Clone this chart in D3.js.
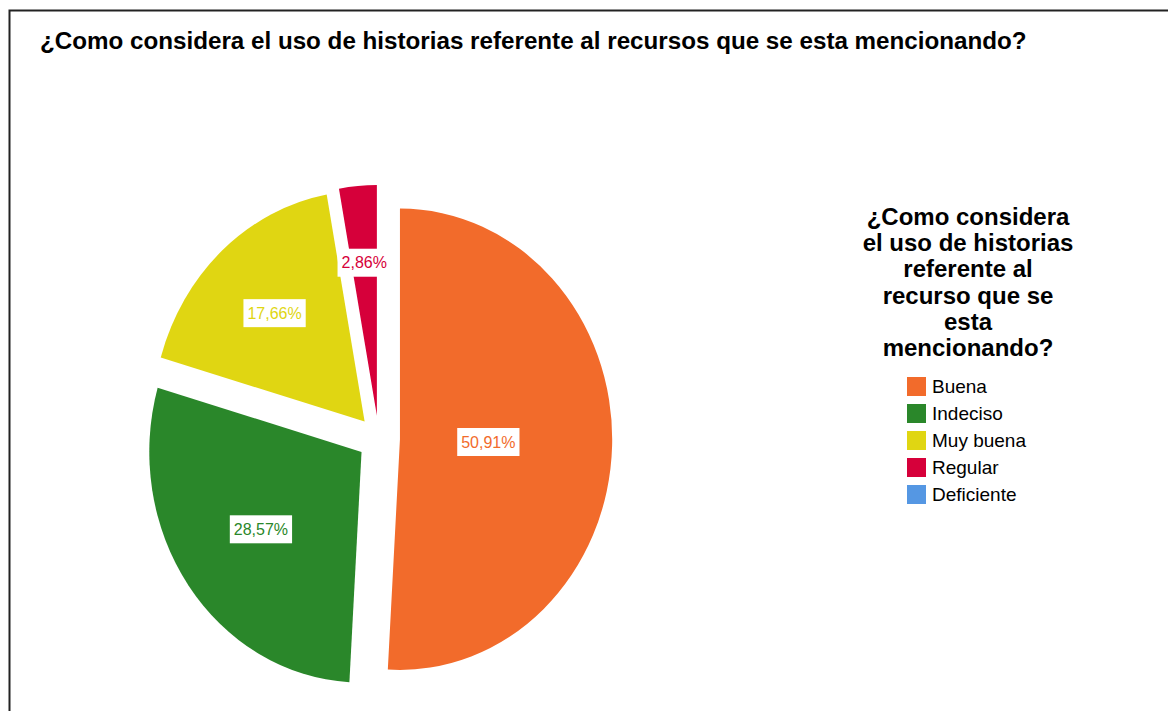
<!DOCTYPE html>
<html>
<head>
<meta charset="utf-8">
<script src="https://cdn.jsdelivr.net/npm/d3@7/dist/d3.min.js"></script>
<style>
  html, body { margin: 0; padding: 0; background: #ffffff; }
  svg { display: block; }
  text { font-family: "Liberation Sans", Arial, sans-serif; }
</style>
</head>
<body>
<svg id="chart" width="1168" height="711"></svg>
<script>
// Response categories and their shares (%)
const categories = ["Buena", "Indeciso", "Muy buena", "Regular", "Deficiente"];
const percentages = [50.91, 28.57, 17.66, 2.86, 0];
const sliceColors = ["#F26B2B", "#2A872A", "#E0D612", "#D6003A", "#5597E3"];
const chartTitle = "¿Como considera el uso de historias referente al recursos que se esta mencionando?";
const legendTitleLines = ["¿Como considera", "el uso de historias", "referente al", "recurso que se", "esta", "mencionando?"];

const svg = d3.select("#chart");

// outer frame (only top and left edges fall inside the view)
svg.append("rect")
  .attr("x", 9.5).attr("y", 10.5)
  .attr("width", 1400).attr("height", 1000)
  .attr("fill", "none").attr("stroke", "#222").attr("stroke-width", 2);

// main title
svg.append("text")
  .attr("x", 40).attr("y", 49)
  .attr("font-size", 24.2).attr("font-weight", "bold")
  .attr("fill", "#000")
  .text(chartTitle);

// pie geometry: slightly elliptical, every slice pulled out along its mid-angle
const cx = 378.8, cy = 438.6, radius = 230.7, squeeze = 0.92, explode = 23;

const data = categories.map((c, i) => ({ cat: c, value: percentages[i] }));
const color = d3.scaleOrdinal().domain(categories).range(sliceColors);

const pie = d3.pie().sort(null).value(d => d.value);
const arcs = pie(data);
const arc = d3.arc().innerRadius(0).outerRadius(radius);

const pieG = svg.append("g");

arcs.filter(a => a.data.value > 0).forEach(a => {
  const mid = (a.startAngle + a.endAngle) / 2;
  const dx = explode * Math.sin(mid), dy = -explode * Math.cos(mid);
  pieG.append("path")
    .attr("transform", `translate(${cx},${cy}) scale(${squeeze},1) translate(${dx},${dy})`)
    .attr("d", arc(a))
    .attr("fill", color(a.data.cat));
});

// percentage labels at each sector's centroid
const fmt = v => d3.format(".2f")(v).replace(".", ",") + "%";
arcs.filter(a => a.data.value > 0).forEach(a => {
  const mid = (a.startAngle + a.endAngle) / 2;
  const theta = a.endAngle - a.startAngle;
  const dist = explode + 4 * radius * Math.sin(theta / 2) / (3 * theta);
  const lx = cx + squeeze * dist * Math.sin(mid);
  const ly = cy - dist * Math.cos(mid);
  const g = svg.append("g").attr("transform", `translate(${lx},${ly})`);
  const t = g.append("text")
    .attr("text-anchor", "middle")
    .attr("dy", "0.35em")
    .attr("font-size", 16)
    .attr("fill", color(a.data.cat))
    .text(fmt(a.data.value));
  const bb = t.node().getBBox();
  g.insert("rect", "text")
    .attr("x", -bb.width / 2 - 4).attr("y", -14)
    .attr("width", bb.width + 8).attr("height", 28)
    .attr("fill", "#fff");
});

// legend
const legendX = 968;
const legG = svg.append("g");
legG.selectAll("text.lt")
  .data(legendTitleLines)
  .join("text")
  .attr("class", "lt")
  .attr("x", legendX)
  .attr("y", (d, i) => 225 + i * 26.2)
  .attr("text-anchor", "middle")
  .attr("font-size", 24).attr("font-weight", "bold")
  .attr("fill", "#000")
  .text(d => d);

const itemY = d3.scalePoint().domain(categories).range([377, 485]);
const items = legG.selectAll("g.item")
  .data(categories)
  .join("g")
  .attr("class", "item")
  .attr("transform", d => `translate(907,${itemY(d)})`);
items.append("rect")
  .attr("width", 19).attr("height", 19)
  .attr("fill", d => color(d));
items.append("text")
  .attr("x", 25).attr("y", 16)
  .attr("font-size", 19)
  .attr("fill", "#000")
  .text(d => d);
</script>
</body>
</html>
